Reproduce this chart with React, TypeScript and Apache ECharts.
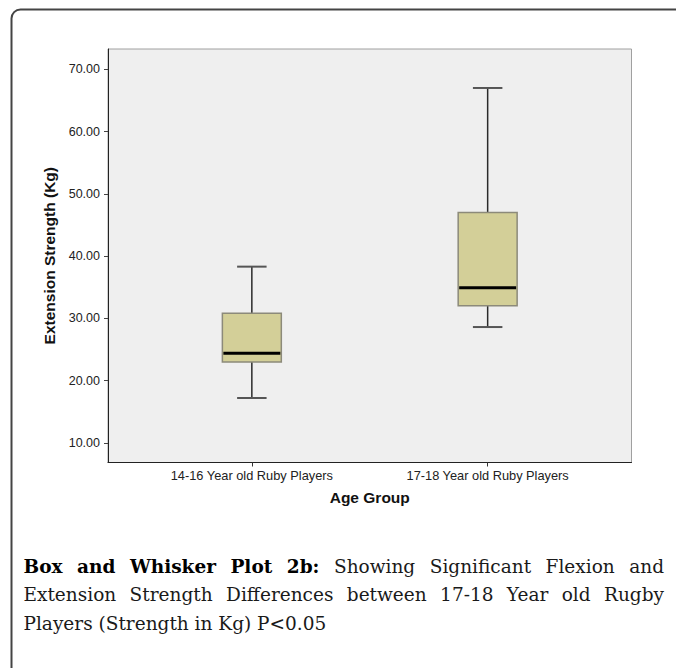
import React, { useEffect, useRef } from 'react';
import * as echarts from 'echarts';

// ---- data ----
const categories = ['14-16 Year old Ruby Players', '17-18 Year old Ruby Players'];
const minValues = [17.2, 28.6];
const q1Values = [23.0, 32.0];
const medianValues = [24.4, 34.9];
const q3Values = [30.8, 47.0];
const maxValues = [38.3, 67.0];
const yTickValues = [10, 20, 30, 40, 50, 60, 70];
const yAxisTitle = 'Extension Strength (Kg)';
const xAxisTitle = 'Age Group';

const captionBoldWords = ['Box', 'and', 'Whisker', 'Plot', '2b:'];
const captionLine1Words = ['Showing', 'Significant', 'Flexion', 'and'];
const captionLine2Words = ['Extension', 'Strength', 'Differences', 'between', '17-18', 'Year', 'old', 'Rugby'];
const captionLine3 = 'Players (Strength in Kg) P<0.05';

// ---- styles ----
const BOX_WIDTH = 0.25; // in x-axis units
const CAPTION_FONT = '"DejaVu Serif", serif';
const CAPTION_SIZE = 18.5;
const CAP_LEFT = 23.5;
const CAP_RIGHT = 664;
const CAP_LINES_Y = [566, 594.5, 623];

function measure(text: string, bold: boolean): number {
  const c = document.createElement('canvas');
  const ctx = c.getContext('2d')!;
  ctx.font = `${bold ? 'bold ' : ''}${CAPTION_SIZE}px ${CAPTION_FONT}`;
  return ctx.measureText(text).width;
}

function justifiedLine(words: { t: string; b: boolean }[], y: number) {
  const widths = words.map((w) => measure(w.t, w.b));
  const total = widths.reduce((a, b) => a + b, 0);
  const gap = (CAP_RIGHT - CAP_LEFT - total) / (words.length - 1);
  let x = CAP_LEFT;
  return words.map((w, i) => {
    const el = {
      type: 'text',
      x,
      y,
      style: {
        text: w.t,
        font: `${w.b ? 'bold ' : ''}${CAPTION_SIZE}px ${CAPTION_FONT}`,
        fill: w.b ? '#000' : '#1a1a1a',
        verticalAlign: 'middle',
        align: 'left',
      },
    };
    x += widths[i] + gap;
    return el;
  });
}

export default function App() {
  const ref = useRef<HTMLDivElement>(null);
  useEffect(() => {
    if (!ref.current) return;
    const chart = echarts.init(ref.current, null, { renderer: 'svg' });
    const boxData = categories.map((_, i) => [
      i + 1,
      minValues[i],
      q1Values[i],
      medianValues[i],
      q3Values[i],
      maxValues[i],
    ]);

    const line1 = [
      ...captionBoldWords.map((t) => ({ t, b: true })),
      ...captionLine1Words.map((t) => ({ t, b: false })),
    ];
    const line2 = captionLine2Words.map((t) => ({ t, b: false }));

    const graphics: any[] = [
      {
        type: 'rect',
        shape: { x: 11.5, y: 9.5, width: 700, height: 700, r: 9 },
        style: { fill: 'none', stroke: '#444', lineWidth: 2 },
        silent: true,
      },
      ...justifiedLine(line1, CAP_LINES_Y[0]),
      ...justifiedLine(line2, CAP_LINES_Y[1]),
      {
        type: 'text',
        x: CAP_LEFT,
        y: CAP_LINES_Y[2],
        style: {
          text: captionLine3,
          font: `${CAPTION_SIZE}px ${CAPTION_FONT}`,
          fill: '#1a1a1a',
          verticalAlign: 'middle',
          align: 'left',
        },
      },
    ];

    const axisFont = 'Liberation Sans, Arial, sans-serif';

    chart.setOption({
      animation: false,
      backgroundColor: '#fff',
      grid: {
        left: 108,
        top: 49,
        right: 44.5,
        bottom: 205.5,
        show: true,
        backgroundColor: '#efefef',
        borderColor: '#a0a0a0',
        borderWidth: 1,
      },
      xAxis: {
        type: 'value',
        min: 0.39,
        max: 2.61,
        name: xAxisTitle,
        nameLocation: 'middle',
        nameGap: 27,
        nameTextStyle: { fontFamily: axisFont, fontWeight: 'bold', fontSize: 15.5, color: '#111' },
        axisLine: { show: true, onZero: false, lineStyle: { color: '#222', width: 1 } },
        axisTick: { show: true, customValues: [1, 2], length: 4, lineStyle: { color: '#333' } },
        axisLabel: {
          customValues: [1, 2],
          formatter: (v: number) => categories[Math.round(v) - 1] ?? '',
          fontSize: 12.8,
          fontFamily: axisFont,
          color: '#222',
          margin: 6,
        },
        splitLine: { show: false },
      },
      yAxis: {
        type: 'value',
        min: 6.84,
        max: 73.26,
        name: yAxisTitle,
        nameLocation: 'middle',
        nameGap: 47,
        nameTextStyle: { fontFamily: axisFont, fontWeight: 'bold', fontSize: 15.5, color: '#111' },
        axisLine: { show: true, onZero: false, lineStyle: { color: '#222', width: 1 } },
        axisTick: { show: true, customValues: yTickValues, length: 4, lineStyle: { color: '#444' } },
        axisLabel: {
          customValues: yTickValues,
          formatter: (v: number) => v.toFixed(2),
          fontSize: 12.5,
          fontFamily: axisFont,
          color: '#222',
          margin: 8,
        },
        splitLine: { show: false },
      },
      series: [
        {
          type: 'custom',
          data: boxData,
          encode: { x: 0, y: [1, 2, 3, 4, 5] },
          renderItem: (params: any, api: any) => {
            const x = api.value(0);
            const bw = api.size([BOX_WIDTH, 0])[0];
            const cw = bw / 2;
            const pMin = api.coord([x, api.value(1)]);
            const pQ1 = api.coord([x, api.value(2)]);
            const pMed = api.coord([x, api.value(3)]);
            const pQ3 = api.coord([x, api.value(4)]);
            const pMax = api.coord([x, api.value(5)]);
            const cx = pMin[0];
            const whisker = { stroke: '#2a2a2a', lineWidth: 1.5 };
            const cap = { stroke: '#555', lineWidth: 2 };
            return {
              type: 'group',
              children: [
                { type: 'line', shape: { x1: cx, y1: pMax[1], x2: cx, y2: pQ3[1] }, style: whisker },
                { type: 'line', shape: { x1: cx, y1: pQ1[1], x2: cx, y2: pMin[1] }, style: whisker },
                { type: 'line', shape: { x1: cx - cw / 2, y1: pMax[1], x2: cx + cw / 2, y2: pMax[1] }, style: cap },
                { type: 'line', shape: { x1: cx - cw / 2, y1: pMin[1], x2: cx + cw / 2, y2: pMin[1] }, style: cap },
                {
                  type: 'rect',
                  shape: { x: cx - bw / 2, y: pQ3[1], width: bw, height: pQ1[1] - pQ3[1] },
                  style: { fill: '#d3cf98', stroke: '#8c8a7a', lineWidth: 1.5 },
                },
                {
                  type: 'line',
                  shape: { x1: cx - bw / 2 + 1, y1: pMed[1], x2: cx + bw / 2 - 1, y2: pMed[1] },
                  style: { stroke: '#000', lineWidth: 3 },
                },
              ],
            };
          },
        },
      ],
      graphic: graphics,
    });
    return () => chart.dispose();
  }, []);

  return (
    <div
      ref={ref}
      style={{ position: 'fixed', left: 0, top: 0, width: 676, height: 668, background: '#fff' }}
    />
  );
}
